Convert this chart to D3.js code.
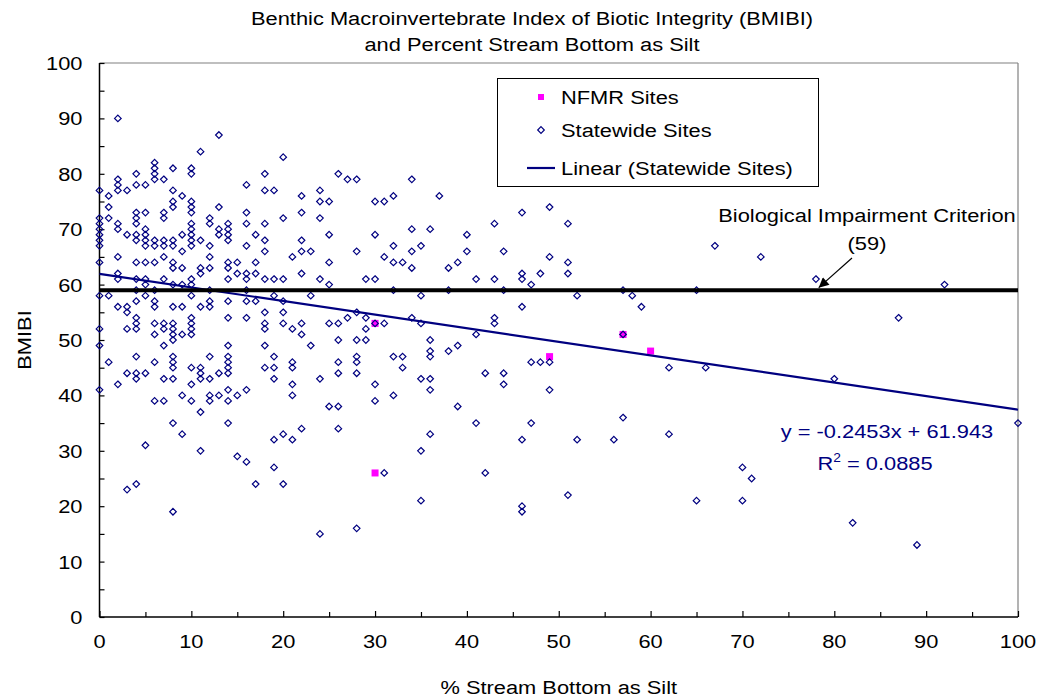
<!DOCTYPE html>
<html>
<head>
<meta charset="utf-8">
<script src="https://cdn.jsdelivr.net/npm/d3@7"></script>
<style>
  html, body { margin: 0; padding: 0; background: #fff; }
  svg { display: block; }
  text { font-family: "Liberation Sans", Arial, sans-serif; fill: #000; }
</style>
</head>
<body>
<svg id="chart" width="1041" height="697"></svg>
<script>
// ---- Data ----------------------------------------------------------
// Statewide sites: percent silt (x) and BMIBI score (y), parallel arrays
const statewideSilt = [
  0,0,0,0,0,0,0,0,0,0,0,0,
  1,1,1,1,1,
  2,2,2,2,2,2,2,2,2,2,2,
  3,3,3,3,3,3,3,
  4,4,4,4,4,4,4,4,4,4,4,4,4,4,4,4,4,4,
  5,5,5,5,5,5,5,5,5,5,5,5,
  6,6,6,6,6,6,6,6,6,6,6,6,6,6,
  7,7,7,7,7,7,7,7,7,7,7,7,
  8,8,8,8,8,8,8,8,8,8,8,8,8,8,8,8,8,8,8,8,
  9,9,9,9,9,9,9,9,9,
  10,10,10,10,10,10,10,10,10,10,10,10,10,10,10,10,10,10,10,10,
  11,11,11,11,11,11,11,11,11,11,
  12,12,12,12,12,12,12,12,12,12,12,12,
  13,13,13,13,13,13,
  14,14,14,14,14,14,14,14,14,14,14,14,14,14,14,14,14,
  15,15,15,15,
  16,16,16,16,16,16,16,16,16,16,16,
  17,17,17,17,17,
  18,18,18,18,18,18,18,18,18,18,18,
  19,19,19,19,19,19,19,19,
  20,20,20,20,20,20,20,20,
  21,21,21,21,21,21,21,
  22,22,22,22,22,22,22,22,
  23,23,23,
  24,24,24,24,24,24,
  25,25,25,25,25,25,
  26,26,26,26,26,26,26,
  27,27,
  28,28,28,28,28,28,28,28,
  29,29,29,29,
  30,30,30,30,30,30,
  31,31,31,31,
  32,32,32,32,32,32,
  33,33,33,
  34,34,34,34,34,
  35,35,35,35,35,35,
  36,36,36,36,36,36,36,
  37,
  38,38,38,
  39,39,39,
  40,40,
  41,41,41,
  42,42,
  43,43,43,43,
  44,44,44,44,
  46,46,46,46,46,46,46,
  47,47,47,
  48,48,
  49,49,49,49,
  51,51,51,51,
  52,52,
  56,
  57,57,57,
  58,
  59,
  62,62,
  65,65,
  66,
  67,
  70,70,
  71,
  72,
  78,
  80,
  82,
  87,
  89,
  92,
  100
];
const statewideBmibi = [
  77,72,71,70,69,68,67,64,58,52,49,41,
  76,74,72,58,46,
  90,79,78,77,71,70,65,62,61,56,42,
  77,69,56,55,52,44,23,
  80,78,73,72,71,69,68,64,61,59,57,54,53,52,47,44,43,24,
  78,73,70,69,68,67,64,61,60,58,44,31,
  82,81,80,79,68,67,64,59,57,56,53,51,46,39,
  79,73,72,68,67,65,61,53,52,49,43,39,
  81,77,75,74,68,67,64,63,60,56,53,52,51,50,47,46,45,43,35,19,
  76,69,66,63,60,56,51,40,33,
  81,80,75,74,73,71,70,69,68,67,61,60,58,54,53,52,51,45,42,39,
  84,68,63,62,56,45,44,43,37,30,
  72,71,67,65,63,59,57,56,47,43,40,39,
  87,74,70,69,44,40,
  71,70,69,68,64,63,61,57,54,49,47,46,45,44,41,39,35,
  64,62,40,29,
  78,73,71,67,62,61,59,57,54,41,28,
  69,64,62,57,24,
  80,77,71,68,66,61,55,53,52,49,45,
  77,61,58,47,45,43,32,27,
  83,72,61,57,55,53,33,24,
  65,52,46,45,42,40,32,
  76,73,68,66,62,53,51,34,
  66,58,49,
  77,75,72,61,43,15,
  75,69,64,60,53,38,
  80,53,50,46,44,38,34,
  79,54,
  79,66,55,50,47,46,44,16,
  61,54,52,50,
  75,69,61,53,42,39,
  75,65,53,26,
  76,67,64,59,47,40,
  64,47,45,
  79,70,66,63,54,
  67,58,53,43,30,21,
  70,50,48,47,43,41,33,
  76,
  63,59,48,
  64,49,38,
  69,66,
  61,51,35,
  44,26,
  71,61,54,53,
  66,59,44,42,
  73,62,61,56,32,20,19,
  60,46,35,
  62,46,
  74,65,46,41,
  71,64,62,22,
  58,32,
  32,
  59,51,36,
  58,
  56,
  45,33,
  59,21,
  45,
  67,
  27,21,
  25,
  65,
  61,
  43,
  17,
  54,
  13,
  60,
  35
];

// NFMR sites
const nfmrSilt  = [30, 30, 49, 57, 60];
const nfmrBmibi = [53, 26, 47, 51, 48];

// Linear trend of the statewide sites and the impairment criterion
const trendSlope = -0.2453;
const trendIntercept = 61.943;
const trendRSquared = 0.0885;
const criterion = 59;

// Axis ticks
const xTicks = [0, 10, 20, 30, 40, 50, 60, 70, 80, 90, 100];
const yTicks = [0, 10, 20, 30, 40, 50, 60, 70, 80, 90, 100];
const minorStep = 5;

const titleLines = [
  "Benthic Macroinvertebrate Index of Biotic Integrity (BMIBI)",
  "and Percent Stream Bottom as Silt"
];
const legendLabels = ["NFMR Sites", "Statewide Sites", "Linear (Statewide Sites)"];

// ---- Layout --------------------------------------------------------
const plot = { left: 99.5, right: 1018, top: 63, bottom: 617 };
const NAVY = "#000080", MAGENTA = "#FF00FF";
const FONT = 19, STRETCH = 1.15;

const svg = d3.select("#chart");
const x = d3.scaleLinear().domain([0, 100]).range([plot.left, plot.right]);
const y = d3.scaleLinear().domain([0, 100]).range([plot.bottom, plot.top]);

// text helper: widened Arial-like lettering
function label(parent, str, px, py, anchor, size, color) {
  const t = parent.append("text")
    .attr("transform", `translate(${px},${py}) scale(${STRETCH},1)`)
    .attr("text-anchor", anchor)
    .style("font-size", (size || FONT) + "px");
  if (color) t.style("fill", color);
  t.text(str);
  return t;
}

// plot frame: grey top/right, black axes left/bottom
svg.append("line").attr("x1", plot.left).attr("x2", plot.right)
  .attr("y1", plot.top).attr("y2", plot.top).attr("stroke", "#808080").attr("stroke-width", 1.2);
svg.append("line").attr("x1", plot.right).attr("x2", plot.right)
  .attr("y1", plot.top).attr("y2", plot.bottom).attr("stroke", "#808080").attr("stroke-width", 1.2);

const minorVals = d3.range(0, 100 + minorStep, minorStep);

const xAxis = svg.append("g").attr("transform", `translate(0,${plot.bottom})`)
  .call(d3.axisBottom(x).tickValues(minorVals).tickSize(-5).tickFormat(""));
const yAxis = svg.append("g").attr("transform", `translate(${plot.left},0)`)
  .call(d3.axisLeft(y).tickValues(minorVals).tickSize(-5).tickFormat(""));
[xAxis, yAxis].forEach(g => {
  g.select(".domain").attr("stroke", "#000").attr("stroke-width", 1.5);
  g.selectAll(".tick line").attr("stroke", "#000").attr("stroke-width", 1.2);
});
xAxis.select(".domain").attr("d", `M${plot.left},0H${plot.right}`);
yAxis.select(".domain").attr("d", `M0,${plot.bottom}V${plot.top}`);
// major x ticks slightly longer
xAxis.selectAll(".tick line").filter(d => d % 10 === 0).attr("y2", -6);

// tick labels
xTicks.forEach(v => label(svg, String(v), x(v), plot.bottom + 31, "middle"));
yTicks.forEach(v => label(svg, String(v), plot.left - 17, y(v) + 7, "end"));

// axis titles
label(svg, "% Stream Bottom as Silt", (plot.left + plot.right) / 2, 694, "middle");
svg.append("text")
  .attr("transform", `translate(31,340) rotate(-90) scale(${STRETCH},1)`)
  .attr("text-anchor", "middle").style("font-size", FONT + "px").text("BMIBI");

// chart title
titleLines.forEach((s, i) => label(svg, s, 532, 25 + i * 26, "middle"));

// ---- Marks ---------------------------------------------------------
const marks = svg.append("g");

// NFMR squares (underneath the statewide diamonds)
const sq = 7;
marks.selectAll("rect.nfmr").data(d3.range(nfmrSilt.length)).join("rect")
  .attr("class", "nfmr")
  .attr("x", i => x(nfmrSilt[i]) - sq / 2)
  .attr("y", i => y(nfmrBmibi[i]) - sq / 2)
  .attr("width", sq).attr("height", sq)
  .attr("fill", MAGENTA);

// statewide diamonds
const dr = 3.3;
const diamond = `M0,${-dr}L${dr},0L0,${dr}L${-dr},0Z`;
marks.selectAll("path.state").data(d3.range(statewideSilt.length)).join("path")
  .attr("class", "state")
  .attr("d", diamond)
  .attr("transform", i => `translate(${x(statewideSilt[i])},${y(statewideBmibi[i])})`)
  .attr("fill", "none").attr("stroke", NAVY).attr("stroke-width", 1.2);

// linear trendline
svg.append("line")
  .attr("x1", x(0)).attr("y1", y(trendIntercept))
  .attr("x2", x(100)).attr("y2", y(trendSlope * 100 + trendIntercept))
  .attr("stroke", NAVY).attr("stroke-width", 2.2);

// impairment criterion line
svg.append("line")
  .attr("x1", x(0)).attr("x2", x(100))
  .attr("y1", y(criterion)).attr("y2", y(criterion))
  .attr("stroke", "#000").attr("stroke-width", 4);

// criterion annotation with arrow
label(svg, "Biological Impairment Criterion", 867, 222, "middle");
label(svg, `(${criterion})`, 867, 250, "middle");
svg.append("defs").append("marker")
  .attr("id", "arrow").attr("viewBox", "0 0 10 10")
  .attr("refX", 10).attr("refY", 5)
  .attr("markerWidth", 14).attr("markerHeight", 10)
  .attr("markerUnits", "userSpaceOnUse")
  .attr("orient", "auto")
  .append("path").attr("d", "M0,0L10,5L0,10Z").attr("fill", "#000");
svg.append("line")
  .attr("x1", 852).attr("y1", 258)
  .attr("x2", x(78.3)).attr("y2", y(criterion) - 2.5)
  .attr("stroke", "#000").attr("stroke-width", 1.2)
  .attr("marker-end", "url(#arrow)");

// trend equation
label(svg, `y = ${trendSlope}x + ${trendIntercept}`, 887, 438, "middle", FONT, NAVY);
const r2 = svg.append("text")
  .attr("transform", `translate(875,470) scale(${STRETCH},1)`)
  .attr("text-anchor", "middle").style("font-size", FONT + "px").style("fill", NAVY);
r2.append("tspan").text("R");
r2.append("tspan").attr("dy", -8).style("font-size", "12px").text("2");
r2.append("tspan").attr("dy", 8).text(` = ${trendRSquared}`);

// ---- Legend --------------------------------------------------------
const lg = svg.append("g");
lg.append("rect").attr("x", 497.5).attr("y", 78.5).attr("width", 321).attr("height", 108)
  .attr("fill", "#fff").attr("stroke", "#000").attr("stroke-width", 1);
const rowY = [97, 130, 168];
lg.append("rect").attr("x", 541 - 3).attr("y", rowY[0] - 3).attr("width", 6).attr("height", 6).attr("fill", MAGENTA);
lg.append("path").attr("d", diamond).attr("transform", `translate(541,${rowY[1]})`)
  .attr("fill", "none").attr("stroke", NAVY).attr("stroke-width", 1.2);
lg.append("line").attr("x1", 527).attr("x2", 555).attr("y1", rowY[2]).attr("y2", rowY[2])
  .attr("stroke", NAVY).attr("stroke-width", 2.2);
legendLabels.forEach((s, i) => label(lg, s, 561, rowY[i] + 7, "start"));
</script>
</body>
</html>
